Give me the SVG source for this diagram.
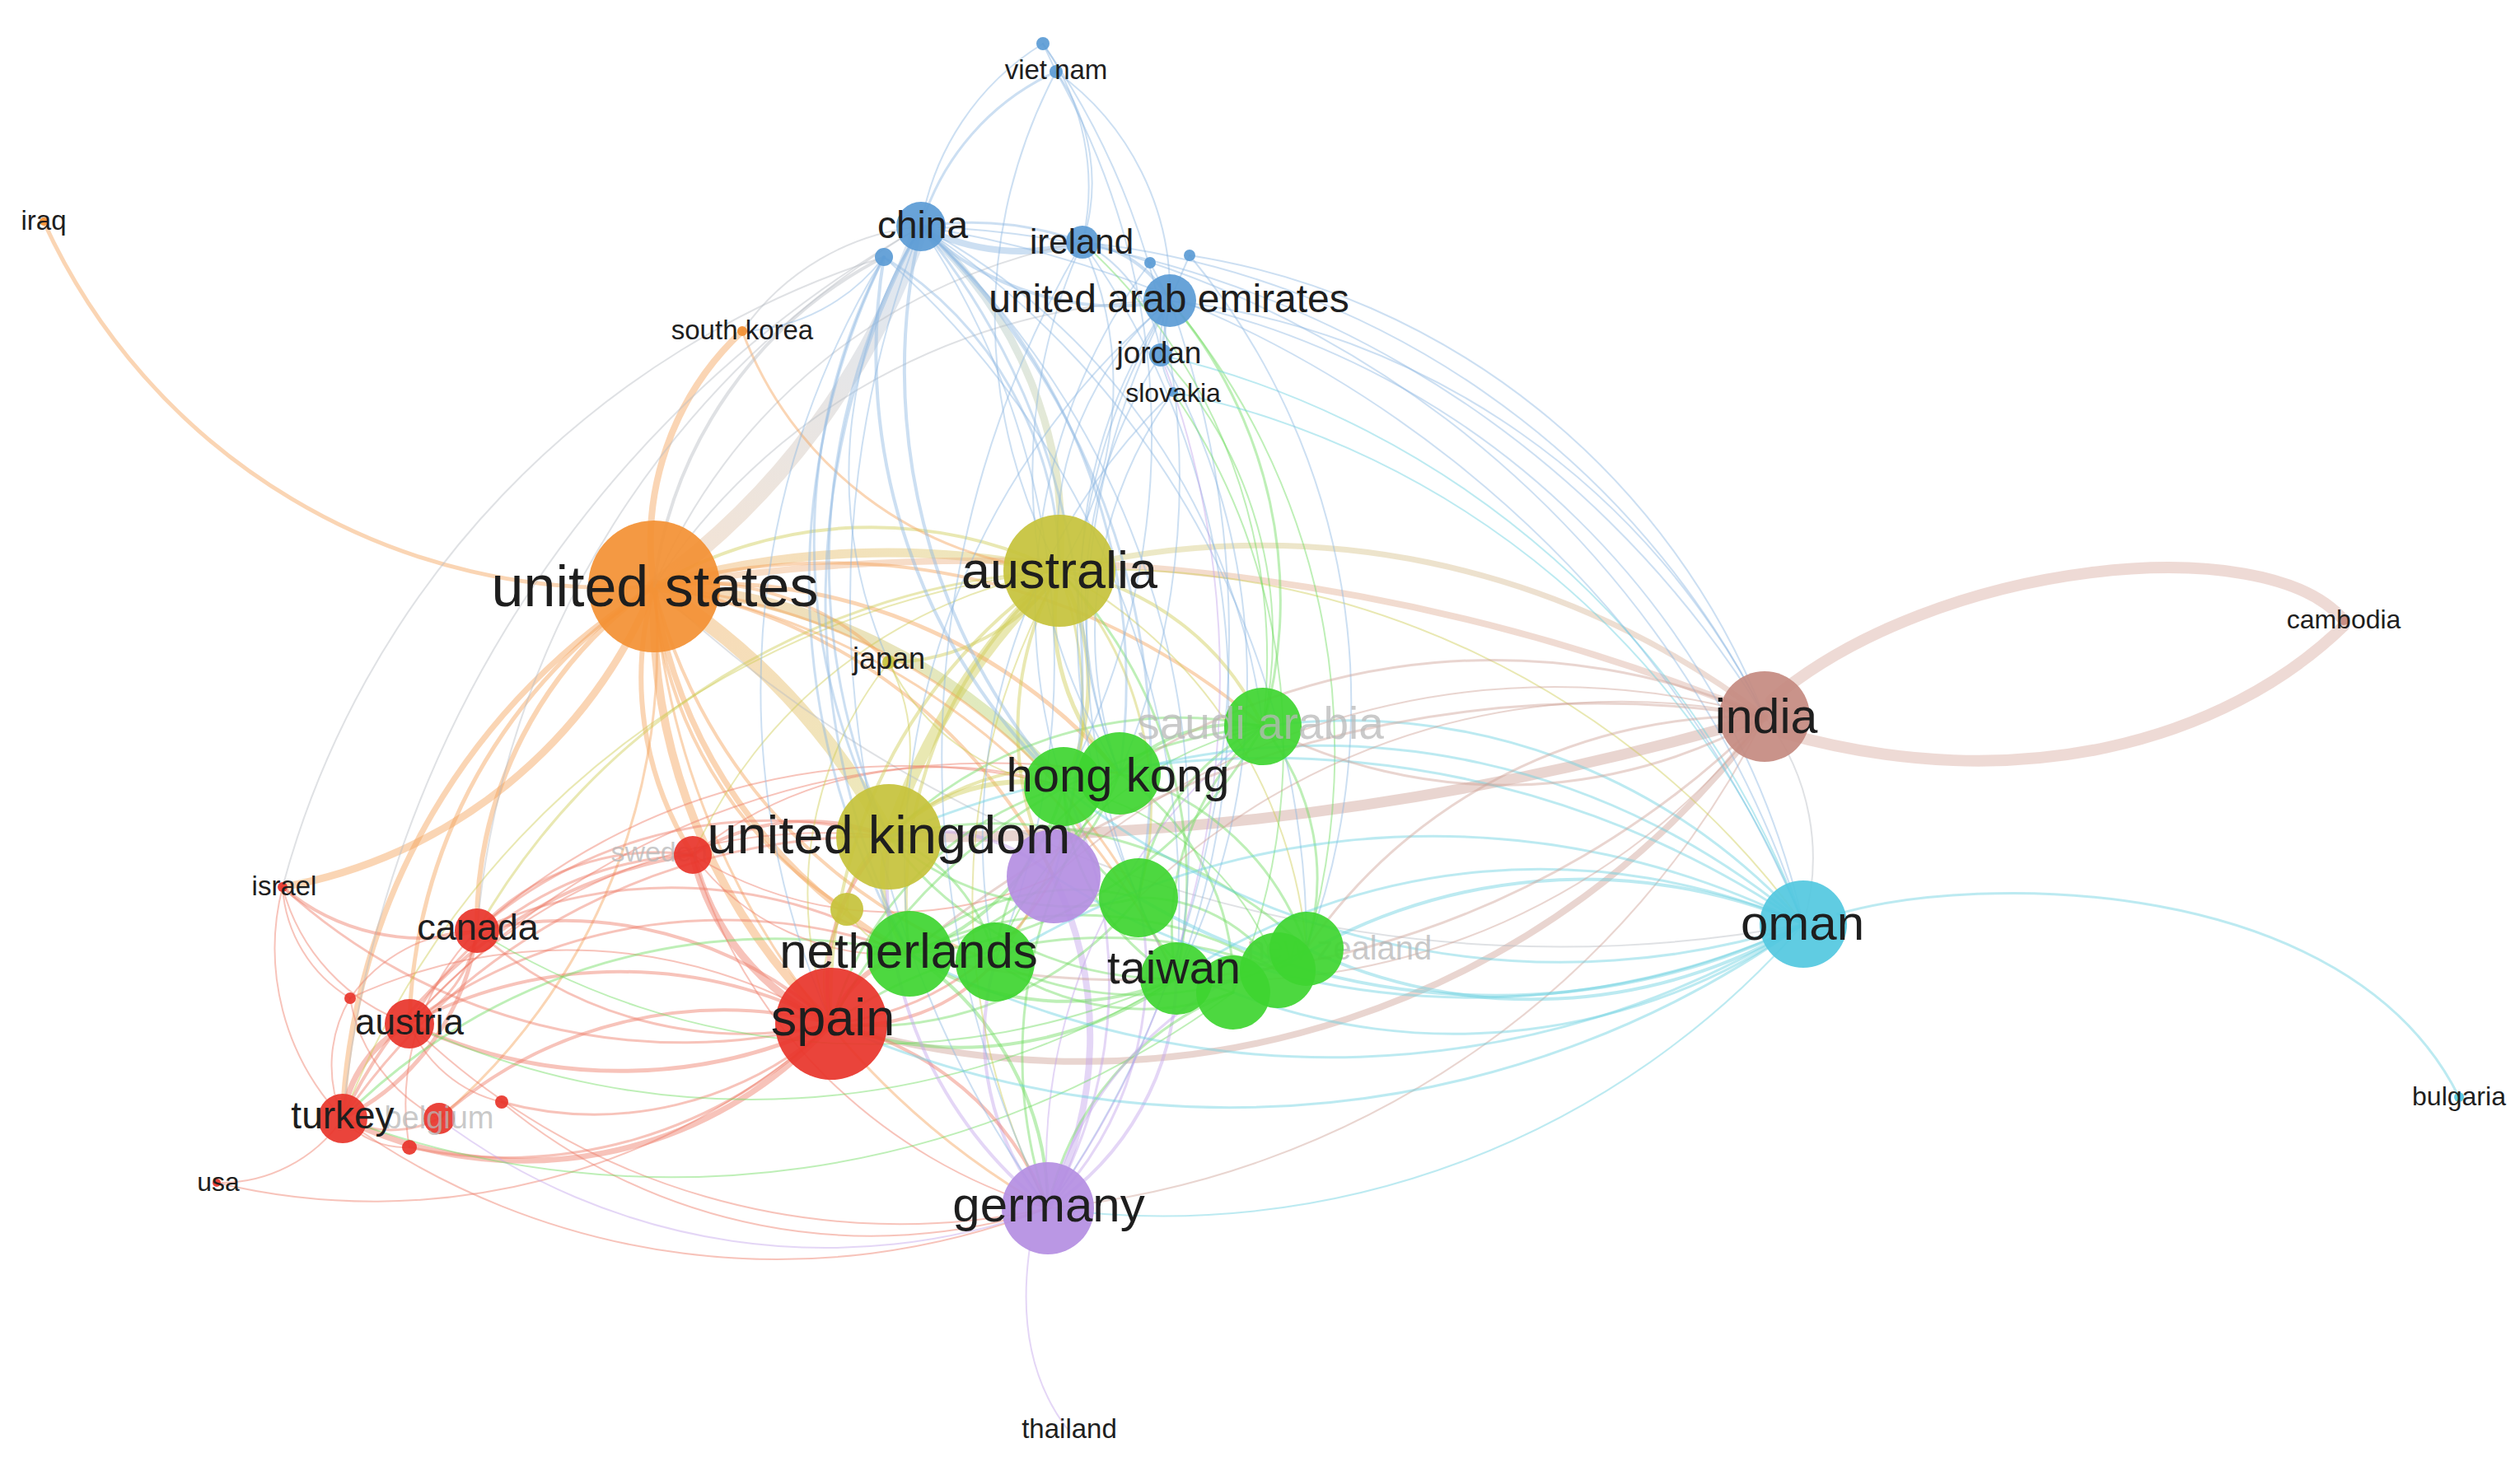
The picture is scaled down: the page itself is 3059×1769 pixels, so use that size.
<svg xmlns="http://www.w3.org/2000/svg" width="3059" height="1769" viewBox="0 0 3059 1769">
<defs>
<style>
.e{fill:none;stroke-linecap:round;stroke-opacity:.45}
.o{stroke:#f4a259}.r{stroke:#ee7a66}.y{stroke:#cfcb55}.g{stroke:#6fdc5f}.b{stroke:#8db8e2}
.p{stroke:#c3a5ec}.c{stroke:#6ad0e0}.n{stroke:#cfa196}.k{stroke:#b9bcc4}
.lb{font-family:"Liberation Sans",Arial,sans-serif;fill:#1e1e1e;text-anchor:middle}
.fl{font-family:"Liberation Sans",Arial,sans-serif;fill:#b8b8b8;fill-opacity:.75;text-anchor:middle}
.n-or{fill:#f39033}.n-ol{fill:#c5c23b}.n-re{fill:#e8342a}.n-gr{fill:#3ed530}.n-bl{fill:#5b9bd5}
.n-pu{fill:#b48ee2}.n-cy{fill:#52c8df}.n-br{fill:#c48a80}
circle{fill-opacity:.92}
</style>
<linearGradient id="gUSCN" gradientUnits="userSpaceOnUse" x1="794" y1="712" x2="1118" y2="275"><stop offset="0" stop-color="#e9c19c"/><stop offset="1" stop-color="#b3cbe6"/></linearGradient>
<linearGradient id="gUSIN" gradientUnits="userSpaceOnUse" x1="794" y1="712" x2="2142" y2="870"><stop offset="0" stop-color="#f3b47c"/><stop offset="1" stop-color="#d8aea4"/></linearGradient>
<linearGradient id="gUSUK" gradientUnits="userSpaceOnUse" x1="794" y1="712" x2="1079" y2="1016"><stop offset="0" stop-color="#f4a862"/><stop offset="1" stop-color="#d5d16a"/></linearGradient>
<linearGradient id="gUSHK" gradientUnits="userSpaceOnUse" x1="794" y1="712" x2="1291" y2="955"><stop offset="0" stop-color="#f4a862"/><stop offset="1" stop-color="#a9dd72"/></linearGradient>
<linearGradient id="gCNAU" gradientUnits="userSpaceOnUse" x1="1118" y1="275" x2="1286" y2="693"><stop offset="0" stop-color="#a6c6e8"/><stop offset="1" stop-color="#d3d27a"/></linearGradient>
<linearGradient id="gAUIN" gradientUnits="userSpaceOnUse" x1="1286" y1="693" x2="2142" y2="870"><stop offset="0" stop-color="#d6d27c"/><stop offset="1" stop-color="#d8aea4"/></linearGradient>
<linearGradient id="gUSAU" gradientUnits="userSpaceOnUse" x1="794" y1="712" x2="1286" y2="693"><stop offset="0" stop-color="#f4ad6a"/><stop offset="1" stop-color="#d3d06a"/></linearGradient>
</defs>
<rect width="3059" height="1769" fill="#ffffff"/>
<g id="edges">
<path class="e" d="M2150 850 C2350 680 2750 640 2845 753" stroke="#d9aca2" stroke-width="14"/>
<path class="e" d="M2165 890 C2450 970 2700 900 2845 760" stroke="#d9aca2" stroke-width="14"/>
<path class="e c" d="M2230 1110 C2400 1060 2850 1060 2985 1332" stroke-width="3"/>
<path class="e p" d="M1250 1515 C1235 1620 1260 1690 1298 1738" stroke-width="2"/>
<path class="e o" d="M53 269 A760 760 0 0 0 794 712" stroke-width="5"/>
<path class="e o" d="M794 712 A350 350 0 0 1 901 402" stroke-width="8"/>
<path class="e" d="M794 712 A900 900 0 0 0 1118 275" stroke="url(#gUSCN)" stroke-width="20"/>
<path class="e" d="M794 712 A1000 1000 0 0 1 1286 693" stroke="url(#gUSAU)" stroke-width="11"/>
<path class="e y" d="M794 712 A520 520 0 0 1 1286 693" stroke-width="4"/>
<path class="e" d="M794 712 A800 800 0 0 1 1079 1016" stroke="url(#gUSUK)" stroke-width="18"/>
<path class="e" d="M794 712 A700 700 0 0 1 1291 955" stroke="url(#gUSHK)" stroke-width="14"/>
<path class="e" d="M794 712 A2500 2500 0 0 1 2142 870" stroke="url(#gUSIN)" stroke-width="8"/>
<path class="e" d="M1118 275 A500 500 0 0 1 1286 693" stroke="url(#gCNAU)" stroke-width="9"/>
<path class="e" d="M1286 693 A1000 1000 0 0 1 2142 870" stroke="url(#gAUIN)" stroke-width="7"/>
<path class="e n" d="M1079 1016 A3600 3600 0 0 0 2142 870" stroke-width="13"/>
<path class="e n" d="M1009 1243 A1030 1030 0 0 0 2142 870" stroke-width="8"/>
<path class="e y" d="M1286 693 A800 800 0 0 0 1079 1016" stroke-width="14"/>
<path class="e b" d="M1118 275 A260 260 0 0 0 1314 294" stroke-width="8"/>
<path class="e p" d="M1279 1064 A450 450 0 0 1 1272 1467" stroke-width="8"/>
<path class="e r" d="M841 1038 A300 300 0 0 0 1009 1243" stroke-width="9"/>
<path class="e r" d="M1009 1243 A500 500 0 0 1 416 1358" stroke-width="7"/>
<path class="e o" d="M794 712 A650 650 0 0 1 1359 939" stroke-width="5"/>
<path class="e o" d="M794 712 A700 700 0 0 0 1009 1243" stroke-width="10"/>
<path class="e o" d="M794 712 A600 600 0 0 0 1104 1158" stroke-width="7"/>
<path class="e o" d="M794 712 A400 400 0 0 0 841 1038" stroke-width="6"/>
<path class="e o" d="M794 712 A500 500 0 0 0 579 1130" stroke-width="6"/>
<path class="e o" d="M794 712 A650 650 0 0 0 497 1243" stroke-width="5"/>
<path class="e o" d="M794 712 A800 800 0 0 0 416 1358" stroke-width="7"/>
<path class="e o" d="M343 1077 A600 600 0 0 0 794 712" stroke-width="9"/>
<path class="e o" d="M794 712 A750 750 0 0 1 533 1358" stroke-width="3"/>
<path class="e o" d="M794 712 A950 950 0 0 0 1272 1467" stroke-width="3"/>
<path class="e k" d="M794 712 A1600 1600 0 0 0 2189 1122" stroke-width="2"/>
<path class="e o" d="M794 712 A330 330 0 0 1 1079 804" stroke-width="4"/>
<path class="e o" d="M794 712 A800 800 0 0 1 1533 882" stroke-width="4"/>
<path class="e o" d="M794 712 A850 850 0 0 1 1428 1188" stroke-width="3"/>
<path class="e o" d="M794 712 A750 750 0 0 1 1382 1090" stroke-width="3"/>
<path class="e o" d="M794 712 A650 650 0 0 1 1279 1064" stroke-width="4"/>
<path class="e o" d="M794 712 A650 650 0 0 0 1208 1168" stroke-width="4"/>
<path class="e o" d="M794 712 A500 500 0 0 0 1028 1104" stroke-width="4"/>
<path class="e k" d="M794 712 A700 700 0 0 1 1314 294" stroke-width="2"/>
<path class="e k" d="M794 712 A760 760 0 0 1 1420 365" stroke-width="2"/>
<path class="e k" d="M901 402 A300 300 0 0 1 1118 275" stroke-width="2"/>
<path class="e o" d="M901 402 A450 450 0 0 0 1286 693" stroke-width="3"/>
<path class="e r" d="M579 1130 A480 480 0 0 1 1009 1243" stroke-width="4"/>
<path class="e r" d="M579 1130 A480 480 0 0 0 1009 1243" stroke-width="3"/>
<path class="e r" d="M497 1243 A550 550 0 0 1 1009 1243" stroke-width="4"/>
<path class="e r" d="M497 1243 A600 600 0 0 0 1009 1243" stroke-width="5"/>
<path class="e r" d="M533 1358 A520 520 0 0 1 1009 1243" stroke-width="4"/>
<path class="e r" d="M609 1338 A430 430 0 0 0 1009 1243" stroke-width="3"/>
<path class="e r" d="M497 1393 A560 560 0 0 0 1009 1243" stroke-width="3"/>
<path class="e r" d="M343 1077 A720 720 0 0 0 1009 1243" stroke-width="3"/>
<path class="e r" d="M425 1212 A620 620 0 0 1 1009 1243" stroke-width="2"/>
<path class="e r" d="M263 1436 A820 820 0 0 0 1009 1243" stroke-width="2"/>
<path class="e r" d="M579 1130 A150 150 0 0 1 497 1243" stroke-width="3"/>
<path class="e r" d="M579 1130 A300 300 0 0 1 416 1358" stroke-width="5"/>
<path class="e r" d="M343 1077 A260 260 0 0 0 579 1130" stroke-width="4"/>
<path class="e r" d="M497 1243 A150 150 0 0 0 416 1358" stroke-width="7"/>
<path class="e r" d="M343 1077 A240 240 0 0 0 497 1243" stroke-width="2"/>
<path class="e r" d="M416 1358 A180 180 0 0 1 263 1436" stroke-width="2"/>
<path class="e r" d="M416 1358 A130 130 0 0 0 533 1358" stroke-width="3"/>
<path class="e r" d="M416 1358 A160 160 0 0 1 425 1212" stroke-width="2"/>
<path class="e r" d="M416 1358 A100 100 0 0 0 497 1393" stroke-width="2"/>
<path class="e r" d="M343 1077 A170 170 0 0 0 425 1212" stroke-width="2"/>
<path class="e r" d="M343 1077 A300 300 0 0 0 416 1358" stroke-width="2"/>
<path class="e r" d="M579 1130 A300 300 0 0 1 841 1038" stroke-width="3"/>
<path class="e r" d="M497 1243 A420 420 0 0 1 841 1038" stroke-width="3"/>
<path class="e r" d="M416 1358 A560 560 0 0 1 841 1038" stroke-width="4"/>
<path class="e r" d="M497 1243 A160 160 0 0 0 609 1338" stroke-width="2"/>
<path class="e r" d="M533 1358 A200 200 0 0 1 425 1212" stroke-width="2"/>
<path class="e r" d="M425 1212 A190 190 0 0 1 579 1130" stroke-width="2"/>
<path class="e r" d="M579 1130 A300 300 0 0 0 497 1393" stroke-width="2"/>
<path class="e r" d="M579 1130 A540 540 0 0 1 1079 1016" stroke-width="3"/>
<path class="e r" d="M579 1130 A560 560 0 0 1 1104 1158" stroke-width="3"/>
<path class="e r" d="M497 1243 A640 640 0 0 1 1104 1158" stroke-width="3"/>
<path class="e r" d="M497 1243 A660 660 0 0 1 1079 1016" stroke-width="2"/>
<path class="e r" d="M416 1358 A780 780 0 0 1 1079 1016" stroke-width="3"/>
<path class="e r" d="M579 1130 A770 770 0 0 1 1291 955" stroke-width="2"/>
<path class="e r" d="M497 1243 A950 950 0 0 1 1359 939" stroke-width="2"/>
<path class="e g" d="M416 1358 A740 740 0 0 1 1104 1158" stroke-width="3"/>
<path class="e g" d="M579 1130 A900 900 0 0 0 1428 1188" stroke-width="2"/>
<path class="e r" d="M841 1038 A260 260 0 0 1 1079 1016" stroke-width="4"/>
<path class="e r" d="M841 1038 A300 300 0 0 0 1104 1158" stroke-width="2"/>
<path class="e r" d="M841 1038 A480 480 0 0 1 1291 955" stroke-width="2"/>
<path class="e r" d="M841 1038 A460 460 0 0 0 1279 1064" stroke-width="2"/>
<path class="e r" d="M841 1038 A640 640 0 0 0 1272 1467" stroke-width="2"/>
<path class="e y" d="M841 1038 A600 600 0 0 1 1286 693" stroke-width="2"/>
<path class="e y" d="M579 1130 A870 870 0 0 1 1286 693" stroke-width="3"/>
<path class="e y" d="M416 1358 A1050 1050 0 0 1 1286 693" stroke-width="2"/>
<path class="e r" d="M416 1358 A900 900 0 0 0 1272 1467" stroke-width="2"/>
<path class="e r" d="M497 1243 A850 850 0 0 0 1272 1467" stroke-width="2"/>
<path class="e p" d="M533 1358 A780 780 0 0 0 1272 1467" stroke-width="2"/>
<path class="e r" d="M609 1338 A700 700 0 0 0 1272 1467" stroke-width="2"/>
<path class="e g" d="M416 1358 A1150 1150 0 0 0 1497 1205" stroke-width="2"/>
<path class="e g" d="M497 1243 A980 980 0 0 0 1428 1188" stroke-width="2"/>
<path class="e k" d="M579 1130 A1100 1100 0 0 1 1118 275" stroke-width="2"/>
<path class="e k" d="M416 1358 A1400 1400 0 0 1 1118 275" stroke-width="2"/>
<path class="e k" d="M343 1077 A1100 1100 0 0 1 1073 312" stroke-width="2"/>
<path class="e g" d="M1291 955 A290 290 0 0 1 1104 1158" stroke-width="4"/>
<path class="e g" d="M1359 939 A290 290 0 0 0 1208 1168" stroke-width="3"/>
<path class="e g" d="M1291 955 A280 280 0 0 0 1428 1188" stroke-width="3"/>
<path class="e g" d="M1359 939 A310 310 0 0 1 1497 1205" stroke-width="3"/>
<path class="e g" d="M1359 939 A330 330 0 0 1 1586 1152" stroke-width="3"/>
<path class="e g" d="M1291 955 A170 170 0 0 0 1382 1090" stroke-width="3"/>
<path class="e g" d="M1359 939 A200 200 0 0 1 1533 882" stroke-width="4"/>
<path class="e g" d="M1533 882 A290 290 0 0 1 1586 1152" stroke-width="3"/>
<path class="e g" d="M1533 882 A330 330 0 0 0 1428 1188" stroke-width="3"/>
<path class="e g" d="M1533 882 A270 270 0 0 0 1382 1090" stroke-width="3"/>
<path class="e g" d="M1533 882 A540 540 0 0 1 1104 1158" stroke-width="3"/>
<path class="e g" d="M1533 882 A460 460 0 0 0 1208 1168" stroke-width="2"/>
<path class="e g" d="M1104 1158 A340 340 0 0 0 1428 1188" stroke-width="4"/>
<path class="e g" d="M1104 1158 A470 470 0 0 1 1551 1178" stroke-width="3"/>
<path class="e g" d="M1208 1168 A310 310 0 0 0 1497 1205" stroke-width="3"/>
<path class="e g" d="M1104 1158 A300 300 0 0 1 1382 1090" stroke-width="3"/>
<path class="e g" d="M1208 1168 A400 400 0 0 0 1586 1152" stroke-width="3"/>
<path class="e g" d="M1382 1090 A200 200 0 0 1 1551 1178" stroke-width="3"/>
<path class="e g" d="M1382 1090 A160 160 0 0 0 1497 1205" stroke-width="3"/>
<path class="e g" d="M1291 955 A350 350 0 0 1 1551 1178" stroke-width="2"/>
<path class="e g" d="M1104 1158 A350 350 0 0 0 1359 939" stroke-width="3"/>
<path class="e y" d="M1079 1016 A230 230 0 0 1 1291 955" stroke-width="6"/>
<path class="e y" d="M1079 1016 A310 310 0 0 1 1359 939" stroke-width="4"/>
<path class="e g" d="M1079 1016 A500 500 0 0 1 1533 882" stroke-width="3"/>
<path class="e g" d="M1079 1016 A420 420 0 0 0 1428 1188" stroke-width="3"/>
<path class="e g" d="M1079 1016 A540 540 0 0 1 1586 1152" stroke-width="3"/>
<path class="e g" d="M1079 1016 A330 330 0 0 0 1382 1090" stroke-width="3"/>
<path class="e y" d="M1079 1016 A150 150 0 0 0 1104 1158" stroke-width="6"/>
<path class="e g" d="M1079 1016 A210 210 0 0 1 1208 1168" stroke-width="3"/>
<path class="e p" d="M1079 1016 A220 220 0 0 1 1279 1064" stroke-width="4"/>
<path class="e r" d="M1009 1243 A130 130 0 0 1 1104 1158" stroke-width="6"/>
<path class="e r" d="M1009 1243 A230 230 0 0 0 1208 1168" stroke-width="4"/>
<path class="e g" d="M1009 1243 A420 420 0 0 1 1291 955" stroke-width="3"/>
<path class="e g" d="M1009 1243 A450 450 0 0 0 1428 1188" stroke-width="4"/>
<path class="e g" d="M1009 1243 A580 580 0 0 1 1551 1178" stroke-width="3"/>
<path class="e g" d="M1009 1243 A420 420 0 0 0 1382 1090" stroke-width="3"/>
<path class="e g" d="M1009 1243 A670 670 0 0 1 1533 882" stroke-width="3"/>
<path class="e r" d="M1009 1243 A250 250 0 0 1 1079 1016" stroke-width="5"/>
<path class="e r" d="M1009 1243 A350 350 0 0 0 1279 1064" stroke-width="3"/>
<path class="e g" d="M1272 1467 A370 370 0 0 0 1104 1158" stroke-width="4"/>
<path class="e p" d="M1272 1467 A320 320 0 0 1 1208 1168" stroke-width="4"/>
<path class="e p" d="M1272 1467 A340 340 0 0 0 1428 1188" stroke-width="4"/>
<path class="e g" d="M1272 1467 A360 360 0 0 1 1497 1205" stroke-width="3"/>
<path class="e p" d="M1272 1467 A450 450 0 0 1 1586 1152" stroke-width="3"/>
<path class="e p" d="M1272 1467 A540 540 0 0 0 1291 955" stroke-width="3"/>
<path class="e g" d="M1272 1467 A560 560 0 0 1 1359 939" stroke-width="3"/>
<path class="e p" d="M1272 1467 A410 410 0 0 0 1382 1090" stroke-width="3"/>
<path class="e p" d="M1272 1467 A670 670 0 0 1 1533 882" stroke-width="2"/>
<path class="e p" d="M1272 1467 A510 510 0 0 1 1079 1016" stroke-width="4"/>
<path class="e r" d="M1272 1467 A360 360 0 0 0 1009 1243" stroke-width="4"/>
<path class="e y" d="M1272 1467 A810 810 0 0 1 1286 693" stroke-width="2"/>
<path class="e c" d="M1272 1467 A1030 1030 0 0 0 2189 1122" stroke-width="2"/>
<path class="e n" d="M1272 1467 A1090 1090 0 0 0 2142 870" stroke-width="2"/>
<path class="e b" d="M1272 1467 A1200 1200 0 0 0 1420 365" stroke-width="2"/>
<path class="e b" d="M1272 1467 A1250 1250 0 0 1 1118 275" stroke-width="2"/>
<path class="e y" d="M1286 693 A280 280 0 0 1 1291 955" stroke-width="5"/>
<path class="e y" d="M1286 693 A270 270 0 0 0 1359 939" stroke-width="5"/>
<path class="e y" d="M1286 693 A330 330 0 0 1 1533 882" stroke-width="4"/>
<path class="e y" d="M1286 693 A420 420 0 0 1 1382 1090" stroke-width="3"/>
<path class="e y" d="M1286 693 A520 520 0 0 0 1104 1158" stroke-width="4"/>
<path class="e y" d="M1286 693 A500 500 0 0 1 1208 1168" stroke-width="3"/>
<path class="e g" d="M1286 693 A540 540 0 0 1 1428 1188" stroke-width="3"/>
<path class="e y" d="M1286 693 A580 580 0 0 1 1586 1152" stroke-width="2"/>
<path class="e y" d="M1286 693 A390 390 0 0 0 1279 1064" stroke-width="4"/>
<path class="e y" d="M1286 693 A250 250 0 0 1 1079 804" stroke-width="4"/>
<path class="e y" d="M1286 693 A630 630 0 0 0 1009 1243" stroke-width="4"/>
<path class="e y" d="M1286 693 A1050 1050 0 0 1 2189 1122" stroke-width="2"/>
<path class="e b" d="M1286 693 A420 420 0 0 0 1314 294" stroke-width="2"/>
<path class="e b" d="M1286 693 A370 370 0 0 1 1420 365" stroke-width="2"/>
<path class="e b" d="M1286 693 A640 640 0 0 1 1282 87" stroke-width="2"/>
<path class="e y" d="M1079 804 A230 230 0 0 1 1079 1016" stroke-width="2"/>
<path class="e y" d="M1079 804 A270 270 0 0 0 1291 955" stroke-width="2"/>
<path class="e y" d="M1079 804 A450 450 0 0 0 1009 1243" stroke-width="2"/>
<path class="e y" d="M1028 1104 A110 110 0 0 1 1079 1016" stroke-width="3"/>
<path class="e y" d="M1028 1104 A100 100 0 0 0 1104 1158" stroke-width="2"/>
<path class="e y" d="M1028 1104 A150 150 0 0 0 1009 1243" stroke-width="2"/>
<path class="e b" d="M1118 275 A400 400 0 0 1 1314 294" stroke-width="3"/>
<path class="e b" d="M1118 275 A340 340 0 0 0 1420 365" stroke-width="4"/>
<path class="e b" d="M1282 87 A300 300 0 0 0 1118 275" stroke-width="3"/>
<path class="e b" d="M1266 53 A320 320 0 0 0 1118 275" stroke-width="2"/>
<path class="e b" d="M1118 275 A760 760 0 0 0 1291 955" stroke-width="4"/>
<path class="e b" d="M1118 275 A740 740 0 0 1 1359 939" stroke-width="3"/>
<path class="e b" d="M1118 275 A900 900 0 0 1 1382 1090" stroke-width="3"/>
<path class="e b" d="M1118 275 A1000 1000 0 0 1 1428 1188" stroke-width="2"/>
<path class="e b" d="M1118 275 A950 950 0 0 0 1104 1158" stroke-width="3"/>
<path class="e b" d="M1118 275 A950 950 0 0 1 1208 1168" stroke-width="2"/>
<path class="e b" d="M1118 275 A860 860 0 0 1 1279 1064" stroke-width="3"/>
<path class="e b" d="M1118 275 A800 800 0 0 0 1079 1016" stroke-width="3"/>
<path class="e b" d="M1118 275 A800 800 0 0 1 1533 882" stroke-width="2"/>
<path class="e b" d="M1118 275 A1050 1050 0 0 1 1586 1152" stroke-width="2"/>
<path class="e b" d="M1118 275 A1400 1400 0 0 1 2189 1122" stroke-width="2"/>
<path class="e b" d="M1118 275 A1250 1250 0 0 1 2142 870" stroke-width="2"/>
<path class="e b" d="M1118 275 A560 560 0 0 0 1079 804" stroke-width="2"/>
<path class="e k" d="M1073 312 A520 520 0 0 0 794 712" stroke-width="4"/>
<path class="e b" d="M1073 312 A720 720 0 0 0 1291 955" stroke-width="4"/>
<path class="e b" d="M1073 312 A900 900 0 0 0 1104 1158" stroke-width="3"/>
<path class="e b" d="M1073 312 A750 750 0 0 0 1079 1016" stroke-width="3"/>
<path class="e b" d="M1073 312 A230 230 0 0 1 901 402" stroke-width="2"/>
<path class="e b" d="M1073 312 A1000 1000 0 0 0 1009 1243" stroke-width="2"/>
<path class="e b" d="M1073 312 A1050 1050 0 0 1 1428 1188" stroke-width="2"/>
<path class="e b" d="M1073 312 A450 450 0 0 1 1286 693" stroke-width="3"/>
<path class="e b" d="M1314 294 A140 140 0 0 1 1420 365" stroke-width="4"/>
<path class="e b" d="M1314 294 A230 230 0 0 0 1282 87" stroke-width="2"/>
<path class="e b" d="M1314 294 A680 680 0 0 0 1359 939" stroke-width="2"/>
<path class="e g" d="M1314 294 A680 680 0 0 1 1533 882" stroke-width="2"/>
<path class="e b" d="M1314 294 A1250 1250 0 0 1 2189 1122" stroke-width="2"/>
<path class="e b" d="M1314 294 A1050 1050 0 0 1 2142 870" stroke-width="2"/>
<path class="e b" d="M1314 294 A1230 1230 0 0 0 1272 1467" stroke-width="2"/>
<path class="e b" d="M1314 294 A950 950 0 0 1 1428 1188" stroke-width="2"/>
<path class="e b" d="M1314 294 A180 180 0 0 1 1409 431" stroke-width="2"/>
<path class="e b" d="M1420 365 A120 120 0 0 0 1424 476" stroke-width="2"/>
<path class="e b" d="M1420 365 L1396 319" stroke-width="2"/>
<path class="e b" d="M1420 365 L1444 310" stroke-width="2"/>
<path class="e b" d="M1420 365 L1409 431" stroke-width="3"/>
<path class="e g" d="M1420 365 A560 560 0 0 1 1533 882" stroke-width="3"/>
<path class="e b" d="M1420 365 A600 600 0 0 0 1359 939" stroke-width="2"/>
<path class="e b" d="M1420 365 A760 760 0 0 0 1382 1090" stroke-width="2"/>
<path class="e g" d="M1420 365 A850 850 0 0 1 1586 1152" stroke-width="2"/>
<path class="e b" d="M1420 365 A860 860 0 0 0 1428 1188" stroke-width="2"/>
<path class="e b" d="M1420 365 A1000 1000 0 0 1 2189 1122" stroke-width="2"/>
<path class="e b" d="M1420 365 A920 920 0 0 1 2142 870" stroke-width="2"/>
<path class="e b" d="M1420 365 A900 900 0 0 0 1104 1158" stroke-width="2"/>
<path class="e b" d="M1420 365 A330 330 0 0 0 1282 87" stroke-width="2"/>
<path class="e b" d="M1409 431 A540 540 0 0 0 1359 939" stroke-width="2"/>
<path class="e b" d="M1409 431 A800 800 0 0 1 1428 1188" stroke-width="2"/>
<path class="e c" d="M1409 431 A1100 1100 0 0 1 2189 1122" stroke-width="2"/>
<path class="e g" d="M1409 431 A500 500 0 0 1 1533 882" stroke-width="2"/>
<path class="e p" d="M1409 431 A1100 1100 0 0 1 1272 1467" stroke-width="2"/>
<path class="e g" d="M1424 476 A760 760 0 0 1 1497 1205" stroke-width="2"/>
<path class="e b" d="M1424 476 A500 500 0 0 0 1359 939" stroke-width="2"/>
<path class="e c" d="M1424 476 A1050 1050 0 0 1 2189 1122" stroke-width="2"/>
<path class="e b" d="M1424 476 A750 750 0 0 0 1208 1168" stroke-width="2"/>
<path class="e b" d="M1282 87 A900 900 0 0 1 1291 955" stroke-width="2"/>
<path class="e b" d="M1282 87 L1266 53" stroke-width="2"/>
<path class="e b" d="M1266 53 A300 300 0 0 1 1314 294" stroke-width="2"/>
<path class="e b" d="M1266 53 A920 920 0 0 1 1359 939" stroke-width="2"/>
<path class="e b" d="M1444 310 A900 900 0 0 1 2142 870" stroke-width="2"/>
<path class="e b" d="M1396 319 A700 700 0 0 0 1291 955" stroke-width="2"/>
<path class="e b" d="M1444 310 A850 850 0 0 1 1586 1152" stroke-width="2"/>
<path class="e c" d="M1586 1152 A640 640 0 0 0 2189 1122" stroke-width="4"/>
<path class="e c" d="M1551 1178 A680 680 0 0 1 2189 1122" stroke-width="4"/>
<path class="e c" d="M1497 1205 A740 740 0 0 0 2189 1122" stroke-width="3"/>
<path class="e c" d="M1428 1188 A800 800 0 0 1 2189 1122" stroke-width="3"/>
<path class="e c" d="M1382 1090 A850 850 0 0 0 2189 1122" stroke-width="4"/>
<path class="e c" d="M1359 939 A900 900 0 0 1 2189 1122" stroke-width="3"/>
<path class="e c" d="M1291 955 A960 960 0 0 0 2189 1122" stroke-width="3"/>
<path class="e c" d="M1533 882 A740 740 0 0 1 2189 1122" stroke-width="3"/>
<path class="e c" d="M1104 1158 A1100 1100 0 0 0 2189 1122" stroke-width="3"/>
<path class="e c" d="M1208 1168 A1000 1000 0 0 1 2189 1122" stroke-width="3"/>
<path class="e c" d="M1009 1243 A1200 1200 0 0 0 2189 1122" stroke-width="3"/>
<path class="e c" d="M1079 1016 A1150 1150 0 0 1 2189 1122" stroke-width="3"/>
<path class="e c" d="M1279 1064 A950 950 0 0 0 2189 1122" stroke-width="3"/>
<path class="e k" d="M2142 870 A280 280 0 0 1 2189 1122" stroke-width="2"/>
<path class="e n" d="M1359 939 A820 820 0 0 1 2142 870" stroke-width="3"/>
<path class="e n" d="M1586 1152 A650 650 0 0 1 2142 870" stroke-width="3"/>
<path class="e n" d="M1533 882 A640 640 0 0 0 2142 870" stroke-width="3"/>
<path class="e n" d="M1382 1090 A840 840 0 0 1 2142 870" stroke-width="2"/>
<path class="e n" d="M1104 1158 A1100 1100 0 0 0 2142 870" stroke-width="3"/>
<path class="e n" d="M1428 1188 A820 820 0 0 0 2142 870" stroke-width="2"/>
<path class="e n" d="M1279 1064 A920 920 0 0 1 2142 870" stroke-width="2"/>
<path class="e n" d="M1104 1158 A1300 1300 0 0 1 2142 870" stroke-width="3"/>
</g>
<g id="node-hk1"><circle class="n-gr" cx="1291" cy="955" r="48"/></g>
<g id="node-nl2"><circle class="n-gr" cx="1208" cy="1168" r="48"/></g>
<g id="node-g3"><circle class="n-gr" cx="1382" cy="1090" r="48"/></g>
<g id="node-new-zealand"><text class="fl" x="1626" y="1165" font-size="40">new zealand</text><circle class="n-gr" cx="1586" cy="1152" r="45"/></g>
<g id="node-t2"><circle class="n-gr" cx="1497" cy="1205" r="45"/></g>
<g id="node-t3"><circle class="n-gr" cx="1551" cy="1178" r="46"/></g>
<g id="node-purple"><circle class="n-pu" cx="1279" cy="1064" r="57"/></g>
<g id="node-olive-small"><circle class="n-ol" cx="1028" cy="1104" r="20"/></g>
<g id="node-blue-small"><circle class="n-bl" cx="1073" cy="312" r="11"/></g>
<g id="node-blue-b1"><circle class="n-bl" cx="1396" cy="319" r="7"/></g>
<g id="node-blue-b2"><circle class="n-bl" cx="1444" cy="310" r="7"/></g>
<g id="node-blue-top"><circle class="n-bl" cx="1266" cy="53" r="8"/></g>
<g id="node-red-r1"><circle class="n-re" cx="425" cy="1212" r="7"/></g>
<g id="node-red-r2"><circle class="n-re" cx="609" cy="1338" r="8"/></g>
<g id="node-red-r3"><circle class="n-re" cx="497" cy="1393" r="9"/></g>
<g id="node-saudi-arabia"><circle class="n-gr" cx="1533" cy="882" r="47"/><text class="fl" x="1530" y="897" font-size="55">saudi arabia</text></g>
<g id="node-sweden"><text class="fl" x="800" y="1046" font-size="34">sweden</text><circle class="n-re" cx="841" cy="1038" r="23"/></g>
<g id="node-belgium"><circle class="n-re" cx="533" cy="1358" r="19"/><text class="fl" x="533" y="1370" font-size="38">belgium</text></g>
<g id="node-united-states"><circle class="n-or" cx="794" cy="712" r="80"/><text class="lb" x="795" y="736" font-size="70">united states</text></g>
<g id="node-australia"><circle class="n-ol" cx="1286" cy="693" r="68"/><text class="lb" x="1286" y="714" font-size="63">australia</text></g>
<g id="node-hong-kong"><circle class="n-gr" cx="1359" cy="939" r="50"/><text class="lb" x="1357" y="961" font-size="58">hong kong</text></g>
<g id="node-taiwan"><circle class="n-gr" cx="1428" cy="1188" r="44"/><text class="lb" x="1425" y="1194" font-size="56">taiwan</text></g>
<g id="node-netherlands"><circle class="n-gr" cx="1104" cy="1158" r="52"/><text class="lb" x="1103" y="1175" font-size="60">netherlands</text></g>
<g id="node-united-kingdom"><circle class="n-ol" cx="1079" cy="1016" r="64"/><text class="lb" x="1079" y="1036" font-size="65">united kingdom</text></g>
<g id="node-spain"><circle class="n-re" cx="1009" cy="1243" r="68"/><text class="lb" x="1011" y="1257" font-size="63">spain</text></g>
<g id="node-germany"><circle class="n-pu" cx="1272" cy="1467" r="56"/><text class="lb" x="1273" y="1483" font-size="60">germany</text></g>
<g id="node-india"><circle class="n-br" cx="2142" cy="870" r="55"/><text class="lb" x="2144" y="890" font-size="59">india</text></g>
<g id="node-oman"><circle class="n-cy" cx="2189" cy="1122" r="53"/><text class="lb" x="2188" y="1141" font-size="60">oman</text></g>
<g id="node-china"><circle class="n-bl" cx="1118" cy="275" r="30"/><text class="lb" x="1120" y="289" font-size="46">china</text></g>
<g id="node-ireland"><circle class="n-bl" cx="1314" cy="294" r="20"/><text class="lb" x="1313" y="308" font-size="42">ireland</text></g>
<g id="node-united-arab-emirates"><circle class="n-bl" cx="1420" cy="365" r="32"/><text class="lb" x="1419" y="379" font-size="48">united arab emirates</text></g>
<g id="node-jordan"><circle class="n-bl" cx="1409" cy="431" r="14"/><text class="lb" x="1407" y="441" font-size="37">jordan</text></g>
<g id="node-slovakia"><circle class="n-bl" cx="1424" cy="476" r="6"/><text class="lb" x="1424" y="488" font-size="32">slovakia</text></g>
<g id="node-viet-nam"><circle class="n-bl" cx="1282" cy="87" r="8"/><text class="lb" x="1282" y="96" font-size="33">viet nam</text></g>
<g id="node-south-korea"><circle class="n-or" cx="901" cy="402" r="6"/><text class="lb" x="901" y="412" font-size="33">south korea</text></g>
<g id="node-iraq"><circle class="n-or" cx="53" cy="269" r="5"/><text class="lb" x="53" y="279" font-size="33">iraq</text></g>
<g id="node-japan"><circle class="n-ol" cx="1079" cy="804" r="8"/><text class="lb" x="1079" y="812" font-size="36">japan</text></g>
<g id="node-cambodia"><circle class="n-br" cx="2845" cy="753" r="6"/><text class="lb" x="2845" y="763" font-size="32">cambodia</text></g>
<g id="node-bulgaria"><circle class="n-cy" cx="2985" cy="1332" r="6"/><text class="lb" x="2985" y="1342" font-size="32">bulgaria</text></g>
<g id="node-thailand"><text class="lb" x="1298" y="1746" font-size="33">thailand</text></g>
<g id="node-israel"><circle class="n-re" cx="343" cy="1077" r="6"/><text class="lb" x="345" y="1087" font-size="33">israel</text></g>
<g id="node-usa"><circle class="n-re" cx="263" cy="1436" r="5"/><text class="lb" x="265" y="1446" font-size="32">usa</text></g>
<g id="node-canada"><circle class="n-re" cx="579" cy="1130" r="27"/><text class="lb" x="580" y="1141" font-size="45">canada</text></g>
<g id="node-austria"><circle class="n-re" cx="497" cy="1243" r="30"/><text class="lb" x="497" y="1256" font-size="44">austria</text></g>
<g id="node-turkey"><circle class="n-re" cx="416" cy="1358" r="30"/><text class="lb" x="416" y="1370" font-size="46">turkey</text></g>
</svg>
